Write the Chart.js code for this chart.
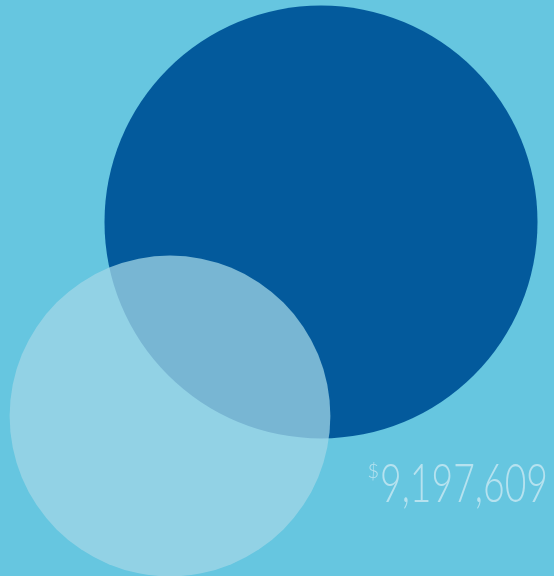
<!DOCTYPE html>
<html>
<head>
<meta charset="utf-8">
<script src="https://cdn.jsdelivr.net/npm/chart.js@4.4.1/dist/chart.umd.min.js"></script>
<style>
  html, body { margin: 0; padding: 0; }
  body {
    width: 554px; height: 576px; overflow: hidden;
    background: #66c6e0;
  }
  #wrap { position: relative; width: 554px; height: 576px; }
  canvas { display: block; }
</style>
</head>
<body>
<div id="wrap"><canvas id="c" width="554" height="576"></canvas></div>
<script>
// ---- data ----
const categories = ["Total", "Portion"];
const amounts = [16760000, 9197609];          // estimated from relative circle areas
const centerX = [321, 170];                    // data-space x of each bubble
const centerY = [222, 416];                    // data-space y of each bubble
const labelAmount = 9197609;

// ---- styling ----
const colors = ["#035a9c", "rgba(162,215,231,0.74)"];
const drawOrder = [1, 0];                      // lower draws on top
const RADIUS_PER_SQRT = 216.5 / Math.sqrt(amounts[0]);

const ctx = document.getElementById('c').getContext('2d');

const labelPlugin = {
  id: 'amountLabel',
  afterDraw(chart) {
    const c = chart.ctx;
    const txt = labelAmount.toLocaleString('en-US');
    c.save();
    c.fillStyle = '#b6e2ef';
    c.textBaseline = 'alphabetic';
    c.font = '300 54px Lato, "Open Sans", sans-serif';
    const w = c.measureText(txt).width;
    const targetW = 168;
    const sx = targetW / w;
    const right = 548, base = 502;
    c.translate(right - targetW, base);
    c.scale(sx, 1);
    c.textAlign = 'left';
    c.fillText(txt, 0, 0);
    c.restore();
    c.save();
    c.fillStyle = '#b6e2ef';
    c.font = '300 20px Lato, "Open Sans", sans-serif';
    c.textAlign = 'right';
    c.textBaseline = 'alphabetic';
    c.fillText('$', right - targetW - 1, 478);
    c.restore();
  }
};

new Chart(ctx, {
  type: 'bubble',
  data: {
    datasets: categories.map((name, i) => ({
      label: name,
      data: [{ x: centerX[i], y: centerY[i], r: RADIUS_PER_SQRT * Math.sqrt(amounts[i]) }],
      backgroundColor: colors[i],
      borderWidth: 0,
      hoverBorderWidth: 0,
      order: drawOrder[i],
      clip: false
    }))
  },
  options: {
    responsive: false,
    animation: false,
    events: [],
    layout: { padding: 0, autoPadding: false },
    plugins: { legend: { display: false }, tooltip: { enabled: false } },
    scales: {
      x: { type: 'linear', min: 0, max: 554, display: false },
      y: { type: 'linear', min: 0, max: 576, reverse: true, display: false }
    }
  },
  plugins: [labelPlugin]
});
</script>
</body>
</html>
